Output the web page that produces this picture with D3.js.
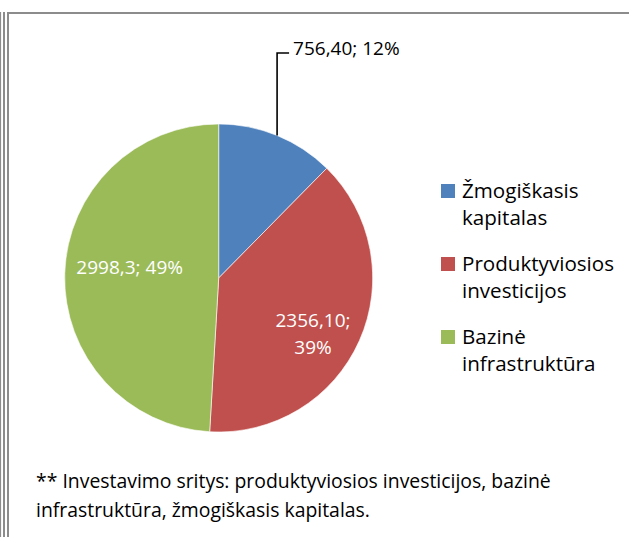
<!DOCTYPE html>
<html>
<head>
<meta charset="utf-8">
<script src="https://cdn.jsdelivr.net/npm/d3@7"></script>
<style>
  body { margin: 0; background: #fff; }
  text { font-family: "Open Sans", sans-serif; }
</style>
</head>
<body>
<div id="chart"></div>
<script>
var width = 629;
var height = 537;

// data
var categories = ["Žmogiškasis kapitalas", "Produktyviosios investicijos", "Bazinė infrastruktūra"];
var values = [756.40, 2356.10, 2998.3];
var labelLines = [["756,40; 12%"], ["2356,10;", "39%"], ["2998,3; 49%"]];
var legendLines = [["Žmogiškasis", "kapitalas"], ["Produktyviosios", "investicijos"], ["Bazinė", "infrastruktūra"]];
var colors = ["#4F81BD", "#C0504D", "#9BBB59"];
var footnote = ["** Investavimo sritys: produktyviosios investicijos, bazinė",
                "infrastruktūra, žmogiškasis kapitalas."];

var cx = 218.7, cy = 278, radius = 154;

var svg = d3.select("#chart").append("svg").attr("width", width).attr("height", height);

// page frame lines
var frame = svg.append("g").attr("stroke", "#8c8c8c").attr("stroke-width", 2).attr("fill", "none");
frame.append("line").attr("x1", 0.5).attr("x2", 0.5).attr("y1", 12).attr("y2", height).attr("stroke-width", 1.2);
frame.append("line").attr("x1", 4).attr("x2", 4).attr("y1", 12).attr("y2", height);
frame.append("line").attr("x1", 8).attr("x2", 8).attr("y1", 12).attr("y2", height);
frame.append("line").attr("x1", 7).attr("x2", width).attr("y1", 13).attr("y2", 13);

var pie = d3.pie().sort(null).value(function(d) { return d; });
var arcs = pie(values);
var arc = d3.arc().innerRadius(0).outerRadius(radius);

var g = svg.append("g").attr("transform", "translate(" + cx + "," + cy + ")");

g.selectAll("path").data(arcs).enter().append("path")
    .attr("d", arc)
    .attr("fill", function(d, i) { return colors[i]; })
    .attr("stroke", "#fff").attr("stroke-width", 0.6);

// inside labels (red and green)
var labelArc = d3.arc().innerRadius(0).outerRadius(radius * 1.17);
var offsets = [[0, 0], [12, 19], [1, -8]];
arcs.forEach(function(d, i) {
    if (i === 0) return;
    var c = labelArc.centroid(d);
    var lines = labelLines[i];
    var t = g.append("text")
        .attr("text-anchor", "middle")
        .attr("fill", "#fff")
        .attr("font-size", 19);
    lines.forEach(function(s, k) {
        t.append("tspan")
            .attr("x", c[0] + offsets[i][0])
            .attr("y", c[1] + offsets[i][1] + (k - (lines.length - 1) / 2) * 27 + 7)
            .text(s);
    });
});

// outside label with leader line (blue)
var mid = (arcs[0].startAngle + arcs[0].endAngle) / 2;
var px = Math.sin(mid) * radius, py = -Math.cos(mid) * radius;
var topY = 53 - cy;
g.append("polyline")
    .attr("points", [[px, py], [px, topY], [px + 12, topY]].map(function(p) { return p.join(","); }).join(" "))
    .attr("fill", "none").attr("stroke", "#000").attr("stroke-width", 1.6);
g.append("text")
    .attr("x", px + 16).attr("y", topY + 2)
    .attr("font-size", 19).attr("fill", "#000")
    .text(labelLines[0][0]);

// legend
var legend = svg.append("g");
var item = legend.selectAll("g").data(categories).enter().append("g")
    .attr("transform", function(d, i) { return "translate(441," + (198 + i * 73) + ")"; });
item.append("rect").attr("x", 0).attr("y", -14).attr("width", 14).attr("height", 14)
    .attr("fill", function(d, i) { return colors[i]; });
item.append("text").attr("font-size", 20.6).attr("fill", "#000")
    .each(function(d, i) {
        var t = d3.select(this);
        legendLines[i].forEach(function(s, k) {
            t.append("tspan").attr("x", 21).attr("y", k * 27).text(s);
        });
    });

// footnote
svg.append("g").selectAll("text").data(footnote).enter().append("text")
    .attr("x", 36).attr("y", function(d, i) { return 488 + i * 29; })
    .attr("font-size", 19.4).attr("fill", "#000")
    .text(function(d) { return d; });
</script>
</body>
</html>
